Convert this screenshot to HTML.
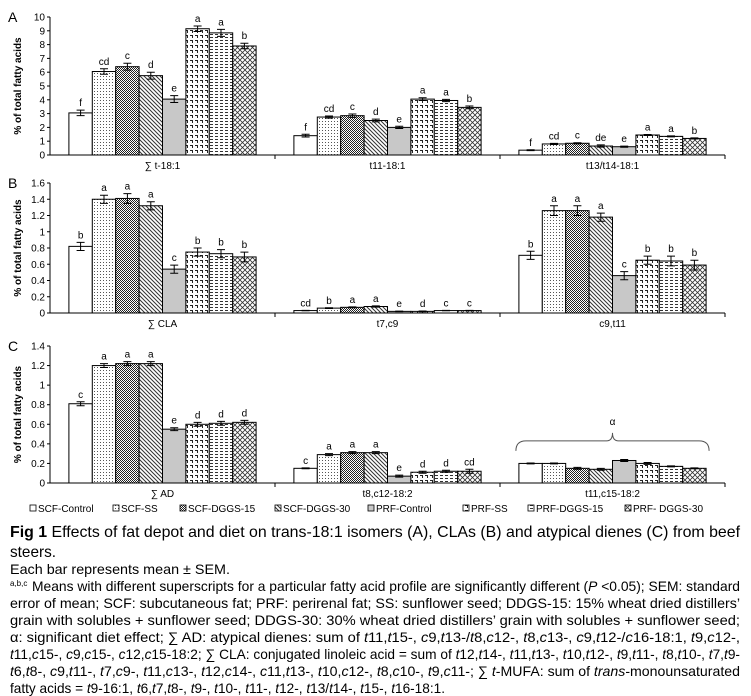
<!DOCTYPE html>
<html><head><meta charset="utf-8">
<style>
html,body{margin:0;padding:0;background:#fff;}
svg{display:block;font-family:"Liberation Sans",Arial,sans-serif;}
</style></head>
<body>
<svg id="fig" width="751" height="696" viewBox="0 0 751 696" xmlns="http://www.w3.org/2000/svg">
<defs>
  <pattern id="p1" width="4" height="4" patternUnits="userSpaceOnUse"><rect width="4" height="4" fill="#fff"/></pattern>
  <pattern id="p2" width="3" height="3" patternUnits="userSpaceOnUse"><rect width="3" height="3" fill="#fff"/><rect x="1" y="1" width="1" height="1" fill="#555"/></pattern>
  <pattern id="p3" width="2" height="2" patternUnits="userSpaceOnUse"><rect width="2" height="2" fill="#fff"/><rect width="1" height="1" fill="#222"/><rect x="1" y="1" width="1" height="1" fill="#222"/></pattern>
  <pattern id="p4" width="4" height="4" patternUnits="userSpaceOnUse"><rect width="4" height="4" fill="#fff"/><path d="M0,0 L4,4 M-1,3 L1,5 M3,-1 L5,1" stroke="#333" stroke-width="1"/></pattern>
  <pattern id="p5" width="4" height="4" patternUnits="userSpaceOnUse"><rect width="4" height="4" fill="#c8c8c8"/></pattern>
  <pattern id="p6" width="5" height="5" patternUnits="userSpaceOnUse"><rect width="5" height="5" fill="#fff"/><path d="M0,0.5 H3 M2.5,0 V3" stroke="#222" stroke-width="1"/></pattern>
  <pattern id="p7" width="5" height="3" patternUnits="userSpaceOnUse"><rect width="5" height="3" fill="#fff"/><path d="M0,1.5 H3" stroke="#333" stroke-width="1"/></pattern>
  <pattern id="p8" width="5" height="5" patternUnits="userSpaceOnUse"><rect width="5" height="5" fill="#fff"/><path d="M0,0 L5,5 M5,0 L0,5" stroke="#333" stroke-width="0.8"/></pattern>
</defs>
<g id="charts"></g>
<g id="legend"></g>
<g id="caption" fill="#000">
  <text x="10" y="537" font-size="16" textLength="730" lengthAdjust="spacingAndGlyphs"><tspan font-weight="bold">Fig 1</tspan> Effects of fat depot and diet on trans-18:1 isomers (A), CLAs (B) and atypical dienes (C) from beef</text>
  <text x="10" y="557" font-size="16" textLength="46" lengthAdjust="spacingAndGlyphs">steers.</text>
  <text x="10" y="574" font-size="14" textLength="220" lengthAdjust="spacingAndGlyphs">Each bar represents mean ± SEM.</text>
  <text x="10" y="586" font-size="8">a,b,c</text>
  <text x="32" y="591" font-size="14" textLength="708" lengthAdjust="spacingAndGlyphs">Means with different superscripts for a particular fatty acid profile are significantly different (<tspan font-style="italic">P</tspan> &lt;0.05); SEM: standard</text>
  <text x="10" y="608" font-size="14" textLength="730" lengthAdjust="spacingAndGlyphs">error of mean; SCF: subcutaneous fat; PRF: perirenal fat; SS: sunflower seed; DDGS-15: 15% wheat dried distillers’</text>
  <text x="10" y="625" font-size="14" textLength="730" lengthAdjust="spacingAndGlyphs">grain with solubles + sunflower seed; DDGS-30: 30% wheat dried distillers’ grain with solubles + sunflower seed;</text>
  <text x="10" y="642" font-size="14" textLength="730" lengthAdjust="spacingAndGlyphs">α: significant diet effect; ∑ AD: atypical dienes: sum of <tspan font-style="italic">t</tspan>11,<tspan font-style="italic">t</tspan>15-, <tspan font-style="italic">c</tspan>9,<tspan font-style="italic">t</tspan>13-/<tspan font-style="italic">t</tspan>8,<tspan font-style="italic">c</tspan>12-, <tspan font-style="italic">t</tspan>8,<tspan font-style="italic">c</tspan>13-, <tspan font-style="italic">c</tspan>9,<tspan font-style="italic">t</tspan>12-/<tspan font-style="italic">c</tspan>16-18:1, <tspan font-style="italic">t</tspan>9,<tspan font-style="italic">c</tspan>12-,</text>
  <text x="10" y="659" font-size="14" textLength="730" lengthAdjust="spacingAndGlyphs"><tspan font-style="italic">t</tspan>11,<tspan font-style="italic">c</tspan>15-, <tspan font-style="italic">c</tspan>9,<tspan font-style="italic">c</tspan>15-, <tspan font-style="italic">c</tspan>12,<tspan font-style="italic">c</tspan>15-18:2; ∑ CLA: conjugated linoleic acid = sum of <tspan font-style="italic">t</tspan>12,<tspan font-style="italic">t</tspan>14-, <tspan font-style="italic">t</tspan>11,<tspan font-style="italic">t</tspan>13-, <tspan font-style="italic">t</tspan>10,<tspan font-style="italic">t</tspan>12-, <tspan font-style="italic">t</tspan>9,<tspan font-style="italic">t</tspan>11-, <tspan font-style="italic">t</tspan>8,<tspan font-style="italic">t</tspan>10-, <tspan font-style="italic">t</tspan>7,<tspan font-style="italic">t</tspan>9-</text>
  <text x="10" y="676" font-size="14" textLength="730" lengthAdjust="spacingAndGlyphs"><tspan font-style="italic">t</tspan>6,<tspan font-style="italic">t</tspan>8-, <tspan font-style="italic">c</tspan>9,<tspan font-style="italic">t</tspan>11-, <tspan font-style="italic">t</tspan>7,<tspan font-style="italic">c</tspan>9-, <tspan font-style="italic">t</tspan>11,<tspan font-style="italic">c</tspan>13-, <tspan font-style="italic">t</tspan>12,<tspan font-style="italic">c</tspan>14-, <tspan font-style="italic">c</tspan>11,<tspan font-style="italic">t</tspan>13-, <tspan font-style="italic">t</tspan>10,<tspan font-style="italic">c</tspan>12-, <tspan font-style="italic">t</tspan>8,<tspan font-style="italic">c</tspan>10-, <tspan font-style="italic">t</tspan>9,<tspan font-style="italic">c</tspan>11-; ∑ <tspan font-style="italic">t</tspan>-MUFA: sum of <tspan font-style="italic">trans</tspan>-monounsaturated</text>
  <text x="10" y="693" font-size="14" textLength="435" lengthAdjust="spacingAndGlyphs">fatty acids = <tspan font-style="italic">t</tspan>9-16:1, <tspan font-style="italic">t</tspan>6,<tspan font-style="italic">t</tspan>7,<tspan font-style="italic">t</tspan>8-, <tspan font-style="italic">t</tspan>9-, <tspan font-style="italic">t</tspan>10-, <tspan font-style="italic">t</tspan>11-, <tspan font-style="italic">t</tspan>12-, <tspan font-style="italic">t</tspan>13/<tspan font-style="italic">t</tspan>14-, <tspan font-style="italic">t</tspan>15-, <tspan font-style="italic">t</tspan>16-18:1.</text>
</g>
</svg>
<script>
// ---- data ----
const treatments = ["SCF-Control","SCF-SS","SCF-DGGS-15","SCF-DGGS-30","PRF-Control","PRF-SS","PRF-DGGS-15","PRF- DGGS-30"];
const catsA = ["∑ t-18:1","t11-18:1","t13/t14-18:1"];
const valsA = [[3.05,6.05,6.4,5.75,4.05,9.15,8.85,7.9],[1.4,2.75,2.85,2.5,2.0,4.05,3.95,3.45],[0.35,0.8,0.85,0.65,0.6,1.45,1.35,1.2]];
const errA = [[0.2,0.2,0.25,0.25,0.25,0.2,0.25,0.2],[0.1,0.08,0.12,0.1,0.08,0.1,0.08,0.1],[0.03,0.04,0.04,0.08,0.04,0.04,0.04,0.04]];
const lettersA = [["f","cd","c","d","e","a","a","b"],["f","cd","c","d","e","a","a","b"],["f","cd","c","de","e","a","a","b"]];
const ticksA = ["0","1","2","3","4","5","6","7","8","9","10"];
const catsB = ["∑ CLA","t7,c9","c9,t11"];
const valsB = [[0.82,1.4,1.41,1.32,0.54,0.75,0.73,0.69],[0.03,0.06,0.07,0.08,0.02,0.02,0.03,0.03],[0.71,1.26,1.26,1.18,0.46,0.65,0.64,0.59]];
const errB = [[0.05,0.05,0.06,0.05,0.05,0.05,0.05,0.06],[0.003,0.004,0.006,0.008,0.003,0.004,0.003,0.003],[0.05,0.06,0.06,0.05,0.05,0.05,0.06,0.06]];
const lettersB = [["b","a","a","a","c","b","b","b"],["cd","b","a","a","e","d","c","c"],["b","a","a","a","c","b","b","b"]];
const ticksB = ["0","0.2","0.4","0.6","0.8","1","1.2","1.4","1.6"];
const catsC = ["∑ AD","t8,c12-18:2","t11,c15-18:2"];
const valsC = [[0.81,1.2,1.22,1.22,0.55,0.6,0.61,0.62],[0.15,0.29,0.31,0.31,0.07,0.11,0.12,0.12],[0.2,0.2,0.15,0.14,0.23,0.2,0.17,0.15]];
const errC = [[0.02,0.02,0.02,0.02,0.015,0.02,0.02,0.02],[0.005,0.01,0.01,0.01,0.01,0.01,0.01,0.02],[0.005,0.005,0.01,0.01,0.01,0.01,0.005,0.005]];
const lettersC = [["c","a","a","a","e","d","d","d"],["c","a","a","a","e","d","d","cd"],["","","","","","","",""]];
const ticksC = ["0","0.2","0.4","0.6","0.8","1","1.2","1.4"];

const NS="http://www.w3.org/2000/svg";
function mk(tag, attrs, parent){const e=document.createElementNS(NS,tag);for(const k in attrs)e.setAttribute(k,attrs[k]);parent.appendChild(e);return e;}

const X0=50, GW=225, BW=23.4, OFF=18.9;
function xBar(g,i){return X0+g*GW+OFF+i*BW;}

function panel(label, cats, vals, errs, letters, ticks, y0, yTop, maxV){
  const root=document.getElementById('charts');
  const g=mk('g',{},root);
  
  
  const y=v=>y0-(v/maxV)*(y0-yTop);
  const pl=mk('text',{x:8,y:yTop+5,'font-size':14},g); pl.textContent=label;
  
  
  const yt=mk('text',{transform:`translate(21,${(y0+yTop)/2}) rotate(-90)`,'text-anchor':'middle','font-size':10,'font-weight':'bold'},g);
  yt.textContent="% of total fatty acids";
  
  
  ticks.forEach(t=>{
    const v=parseFloat(t), yy=y(v);
    const tl=mk('text',{x:45,y:yy+3.5,'text-anchor':'end','font-size':10},g); tl.textContent=t;
    
    
    mk('line',{x1:47,x2:X0,y1:yy,y2:yy,stroke:'#000','stroke-width':1},g);
  });
  cats.forEach((c,gi)=>{
    vals[gi].forEach((v,i)=>{
      const x=xBar(gi,i), top=y(v);
      const r=mk('rect',{x:x,y:top,width:BW,height:y0-top,fill:`url(#p${i+1})`,stroke:'#000','stroke-width':1},g);
      
      
      const e=errs[gi][i], cx=x+BW/2, yh=y(v+e), yl=y(v-e);
      mk('path',{d:`M${cx},${yh}V${yl}M${cx-4},${yh}H${cx+4}M${cx-4},${yl}H${cx+4}`,stroke:'#000','stroke-width':1,fill:'none'},g);
      if(letters[gi][i]){
        const lt=mk('text',{x:cx,y:yh-4,'text-anchor':'middle','font-size':10},g); lt.textContent=letters[gi][i];
        
        
      }
    });
    const cl=mk('text',{x:X0+gi*GW+GW/2,y:y0+14,'text-anchor':'middle','font-size':10},g); cl.textContent=c;
    
    
    mk('line',{x1:X0+(gi+1)*GW,x2:X0+(gi+1)*GW,y1:y0,y2:y0+4,stroke:'#000'},g);
  });
  mk('line',{x1:X0,x2:X0,y1:yTop,y2:y0,stroke:'#000'},g);
  mk('line',{x1:X0,x2:X0+3*GW,y1:y0,y2:y0,stroke:'#000'},g);
  return y;
}
panel("A",catsA,valsA,errA,lettersA,ticksA,155,17,10);
panel("B",catsB,valsB,errB,lettersB,ticksB,313,183,1.6);
const yC=panel("C",catsC,valsC,errC,lettersC,ticksC,483,346,1.4);

// alpha bracket
(function(){
  const root=document.getElementById('charts');
  const x1=xBar(2,0)-3, x2=xBar(2,7)+BW+3, xm=(x1+x2)/2, yb=yC(0.43);
  const b=mk('path',{d:`M${x1},${yb+10} Q${x1},${yb} ${x1+10},${yb} H${xm-6} Q${xm},${yb} ${xm},${yb-8} Q${xm},${yb} ${xm+6},${yb} H${x2-10} Q${x2},${yb} ${x2},${yb+10}`,stroke:'#555',fill:'none','stroke-width':1},root);
  
  
  const a=mk('text',{x:xm,y:yb-16,'text-anchor':'middle','font-size':10},root); a.textContent='α';
  
  
})();

// legend
(function(){
  const lg=document.getElementById('legend');
  const lx=[30,113,180,275,368,463,528,625];
  treatments.forEach((t,i)=>{
    const it=mk('g',{},lg);
    
    
    mk('rect',{x:lx[i],y:505,width:6,height:6,fill:`url(#p${i+1})`,stroke:'#000','stroke-width':0.8},it);
    const tx=mk('text',{x:lx[i]+8,y:512,'font-size':10},it); tx.textContent=t;
  });
})();
</script>
</body></html>
